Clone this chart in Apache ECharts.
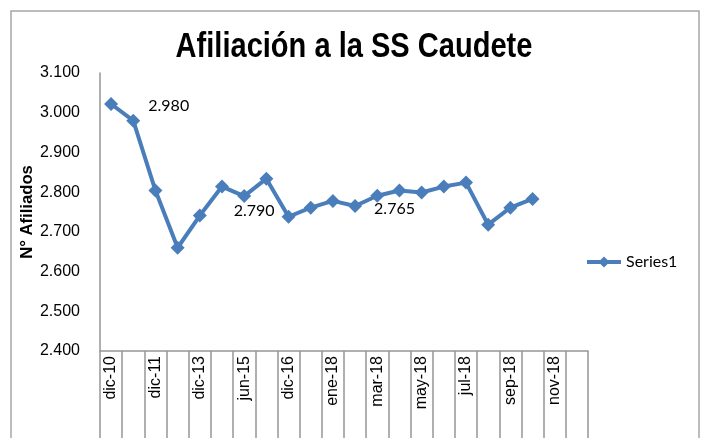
<!DOCTYPE html>
<html>
<head>
<meta charset="utf-8">
<script src="https://cdn.jsdelivr.net/npm/echarts@6/dist/echarts.min.js"></script>
<style>
  html, body { margin: 0; padding: 0; background: #fff; }
  #chart { width: 702px; height: 438px; }
</style>
</head>
<body>
<div id="chart"></div>
<script>
// categorias del eje x (solo se ven una de cada dos)
var categories = ['dic-10', 'jun-11', 'dic-11', 'dic-12', 'dic-13', 'dic-14', 'jun-15', 'dic-15',
  'dic-16', 'dic-17', 'ene-18', 'feb-18', 'mar-18', 'abr-18', 'may-18', 'jun-18',
  'jul-18', 'ago-18', 'sep-18', 'oct-18', 'nov-18', 'dic-18']
var afiliados = [3022, 2980, 2804, 2660, 2741, 2814, 2790, 2834, 2738, 2761,
  2778, 2765, 2791, 2804, 2799, 2814, 2824, 2718, 2761, 2783]
// puntos con etiqueta: indice -> posicion/offset
var labeled = { 1: ['right', [3, -15]], 6: ['bottom', [10, -5]], 11: ['right', [7, 3]] }

var fmt = function (v) {
  var s = String(Math.round(v))
  return s.length > 3 ? s.slice(0, s.length - 3) + '.' + s.slice(-3) : s
}

var chart = echarts.init(document.getElementById('chart'))
chart.setOption({
  animation: false,
  legend: {
    left: 580,
    top: 249,
    itemWidth: 34,
    itemHeight: 14,
    itemGap: 6,
    lineStyle: { width: 4 },
    textStyle: {
      fontFamily: 'Lato',
      fontSize: 16,
      color: '#000'
    },
    data: ['Series1']
  },
  graphic: [{
    type: 'rect',
    shape: { x: 11, y: 11, width: 688, height: 440 },
    style: { fill: 'none', stroke: '#a6a6a6', lineWidth: 1.5 },
    silent: true
  }, {
    // titulo estrecho (tipo Arial Narrow)
    type: 'text',
    x: 354,
    y: 47,
    scaleX: 0.83,
    style: {
      text: 'Afiliación a la SS Caudete',
      fontFamily: 'Liberation Sans',
      fontWeight: 'bold',
      fontSize: 35,
      fill: '#000',
      align: 'center',
      verticalAlign: 'middle'
    }
  }, {
    type: 'text',
    x: 27,
    y: 212,
    rotation: Math.PI / 2,
    scaleX: 0.98,
    style: {
      text: 'N° Afiliados',
      fontFamily: 'Liberation Sans',
      fontWeight: 'bold',
      fontSize: 17,
      fill: '#000',
      align: 'center',
      verticalAlign: 'middle'
    }
  }],
  grid: {
    left: 100,
    top: 73,
    width: 488,
    height: 278
  },
  xAxis: {
    type: 'category',
    data: categories,
    boundaryGap: true,
    axisLine: { lineStyle: { color: '#969696', width: 1.5 } },
    axisTick: {
      show: true,
      interval: 0,
      length: 90,
      lineStyle: { color: '#969696', width: 1.5 }
    },
    axisLabel: {
      interval: 1,
      rotate: 90,
      margin: 5,
      color: '#000',
      fontFamily: 'Liberation Sans',
      fontSize: 16
    },
    splitLine: { show: false }
  },
  yAxis: {
    type: 'value',
    min: 2400,
    max: 3100,
    interval: 100,
    axisLine: { show: true, lineStyle: { color: '#969696', width: 1.5 } },
    axisTick: { show: false },
    splitLine: { show: false },
    axisLabel: {
      margin: 20,
      color: '#000',
      fontFamily: 'Liberation Sans',
      fontSize: 16,
      formatter: fmt
    }
  },
  series: [{
    name: 'Series1',
    type: 'line',
    symbol: 'diamond',
    symbolSize: 14,
    color: '#4a7ebb',
    lineStyle: { color: '#4a7ebb', width: 4 },
    itemStyle: { color: '#4a7ebb' },
    data: afiliados.map(function (v, i) {
      var d = { value: v }
      if (labeled[i]) {
        d.label = {
          show: true,
          position: labeled[i][0],
          offset: labeled[i][1],
          formatter: function (p) { return fmt(p.value) },
          fontFamily: 'Lato',
          fontSize: 16,
          color: '#000'
        }
      }
      return d
    })
  }]
})
</script>
</body>
</html>
